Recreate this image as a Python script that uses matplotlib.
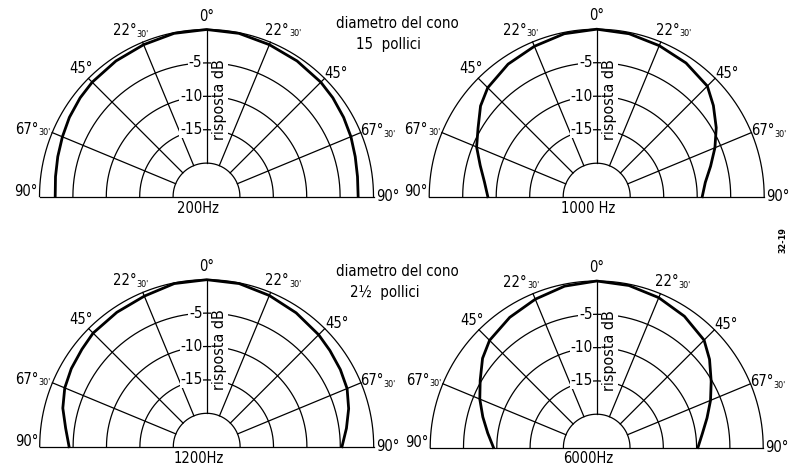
import numpy as np
import matplotlib
matplotlib.use("Agg")
import matplotlib.pyplot as plt

plt.rcParams['font.family'] = ['DejaVu Sans']
plt.rcParams['font.stretch'] = 'condensed'

# ---- data (dB response vs angle, degrees from axis) ----
angles = [-90, -82.5, -75, -67.5, -60, -52, -45, -33.75, -22.5, -11.25, 0,
          11.25, 22.5, 33.75, 45, 52, 60, 67.5, 75, 82.5, 90]
resp_200 = [-2.35, -2.2, -1.95, -1.65, -1.3, -1.0, -0.8, -0.6, -0.4, -0.1, 0,
            -0.1, -0.4, -0.6, -0.8, -1.0, -1.3, -1.6, -1.95, -2.2, -2.3]
resp_1000 = [-8.75, -8.1, -7.0, -5.6, -4.55, -3.0, -2.0, -1.2, -0.7, -0.2, 0,
             -0.2, -0.6, -1.0, -1.65, -2.9, -4.4, -5.9, -7.4, -8.65, -9.25]
resp_1200 = [-4.4, -3.7, -2.7, -2.0, -1.6, -1.3, -0.95, -0.8, -0.6, -0.1, 0,
             -0.1, -0.5, -0.9, -1.3, -1.6, -1.9, -2.25, -3.0, -3.9, -4.75]
resp_6000 = [-9.5, -8.5, -7.3, -6.0, -4.8, -3.25, -2.25, -1.5, -0.9, -0.3, 0,
             -0.2, -0.65, -1.3, -2.2, -3.5, -5.15, -6.5, -7.85, -9.0, -9.8]

freq_labels = ["200Hz", "1000 Hz", "1200Hz", "6000Hz"]
db_levels = [-20, -15, -10, -5, 0]
db_labels = ["-5", "-10", "-15"]
grid_angles = [-67.5, -45, -22.5, 0, 22.5, 45, 67.5]
tick_main = ["90°", "67°", "45°", "22°", "0°", "22°", "45°", "67°", "90°"]
tick_sub = ["", "30'", "", "30'", "", "30'", "", "30'", ""]
tick_pos = [(-88.5, 5.4), (-68.8, 5.58), (-44.5, 5.36), (-24.5, 5.46), (0, 5.4),
            (24.8, 5.48), (46.5, 5.36), (69, 5.5), (90, 5.42)]

W, H = 794, 470
fig = plt.figure(figsize=(W / 100, H / 100), dpi=100)

DB_MIN = -25.0  # radius origin
def rad(db):
    return (np.asarray(db, dtype=float) - DB_MIN) / 5.0

def xy(theta_deg, r):
    t = np.radians(np.asarray(theta_deg, dtype=float))
    return r * np.sin(t), r * np.cos(t)

LW_GRID = 0.9
LW_CURVE = 2.0
FS = 10.5

def add_panel(cx, cy, R, label, resp):
    s = R / 5.0
    x0, x1, y0, y1 = -6.2, 6.2, -0.7, 5.9
    ax = fig.add_axes([(cx + x0 * s) / W, (H - cy + y0 * s) / H,
                       (x1 - x0) * s / W, (y1 - y0) * s / H])
    ax.set_xlim(x0, x1)
    ax.set_ylim(y0, y1)
    ax.axis('off')
    ax.patch.set_alpha(0)

    th = np.linspace(-90, 90, 361)
    for lev in db_levels:
        gx, gy = xy(th, rad(lev))
        ax.plot(gx, gy, color='black', lw=LW_GRID, zorder=1)
    r_in, r_out = rad(db_levels[0]), rad(db_levels[-1])
    for a in grid_angles:
        gx, gy = xy([a, a], [r_in, r_out])
        ax.plot(gx, gy, color='black', lw=LW_GRID, zorder=1)
    bx, by = xy([-90, 90], [r_out, r_out])
    ax.plot(bx, by, color='black', lw=LW_GRID, zorder=1)

    # response curve
    cxv, cyv = xy(angles, rad(resp))
    ax.plot(cxv, cyv, color='black', lw=LW_CURVE, zorder=4,
            solid_joinstyle='round')

    # dB labels
    for txt, lev in zip(db_labels, [-5, -10, -15]):
        ax.text(-0.12, rad(lev), txt, ha='right', va='center', fontsize=FS + 0.5,
                zorder=3, bbox=dict(fc='white', ec='none', pad=0.6))
    ax.text(0.16, 2.9, "risposta dB", rotation=90, ha='left', va='center',
            fontsize=11.5, zorder=3, bbox=dict(fc='white', ec='none', pad=0.8))

    # angle labels
    for m, sb, (a, rr) in zip(tick_main, tick_sub, tick_pos):
        lx, ly = xy(a, rr)
        if not sb:
            ax.text(lx, ly, m, ha='center', va='center', fontsize=FS)
        else:
            ax.annotate(m, (lx, ly), xytext=(4.0, 0), textcoords='offset points',
                        ha='right', va='center', fontsize=FS)
            ax.annotate(sb, (lx, ly), xytext=(4.0, -2.5), textcoords='offset points',
                        ha='left', va='center', fontsize=6.5)

    ax.text(-0.25, -0.12, label, ha='center', va='top', fontsize=FS)
    return ax

add_panel(206.5, 196.5, 167, freq_labels[0], resp_200)
add_panel(596.7, 196.7, 167.5, freq_labels[1], resp_1000)
add_panel(206.7, 446.7, 167, freq_labels[2], resp_1200)
add_panel(596.7, 447.5, 166.5, freq_labels[3], resp_6000)

fig.text(397 / W, 1 - 23 / H, "diametro del cono", ha='center', va='center', fontsize=10.8)
fig.text(388 / W, 1 - 44 / H, "15  pollici", ha='center', va='center', fontsize=10.8)
fig.text(397 / W, 1 - 271 / H, "diametro del cono", ha='center', va='center', fontsize=10.8)
fig.text(385 / W, 1 - 292 / H, "2½  pollici", ha='center', va='center', fontsize=10.8)
fig.text(783 / W, 1 - 240 / H, "32-19", rotation=90, ha='center', va='center',
         fontsize=6.5, fontweight='bold')

fig.savefig("out.png", dpi=100)
